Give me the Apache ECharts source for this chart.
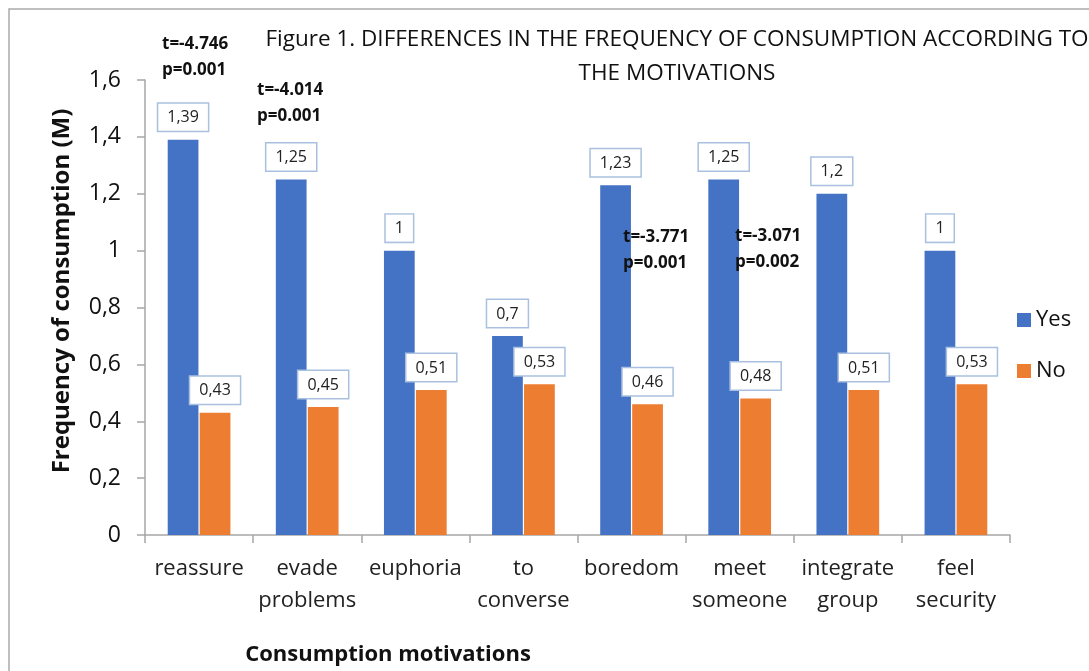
<!DOCTYPE html>
<html>
<head>
<meta charset="utf-8">
<script src="https://cdn.jsdelivr.net/npm/echarts@6/dist/echarts.min.js"></script>
<style>
  html, body { margin: 0; padding: 0; background: #fff; }
  #chart { width: 1089px; height: 671px; }
</style>
</head>
<body>
<div id="chart"></div>
<script>
  var categories = ['reassure', 'evade\nproblems', 'euphoria', 'to\nconverse', 'boredom', 'meet\nsomeone', 'integrate\ngroup', 'feel\nsecurity'];
  var yesValues = [1.39, 1.25, 1, 0.7, 1.23, 1.25, 1.2, 1];
  var noValues = [0.43, 0.45, 0.51, 0.53, 0.46, 0.48, 0.51, 0.53];
  var seriesNames = ['Yes', 'No'];
  // t-test notes: text + where they sit
  var notes = [
    { text: 't=-4.746\np=0.001', x: 162, y: 57 },
    { text: 't=-4.014\np=0.001', x: 257, y: 103 },
    { text: 't=-3.771\np=0.001', x: 623, y: 250 },
    { text: 't=-3.071\np=0.002', x: 735, y: 249 }
  ];

  var font = 'Open Sans';
  var comma = function (v) { return String(v).replace('.', ','); };

  var chart = echarts.init(document.getElementById('chart'));

  var labelStyle = {
    show: true,
    position: 'top',
    distance: 9,
    formatter: function (p) { return comma(p.value); },
    fontFamily: font,
    fontSize: 16,
    color: '#222',
    backgroundColor: '#fff',
    borderColor: '#a9c0e0',
    borderWidth: 1.5,
    padding: [6, 9, 5, 9]
  };

  var graphics = [{
    type: 'rect',
    shape: { x: 9, y: 9, width: 1200, height: 800 },
    style: { fill: 'none', stroke: '#aaa', lineWidth: 1.5 },
    silent: true
  }, {
    type: 'text',
    x: 677, y: 23,
    style: {
      text: 'Figure 1. DIFFERENCES IN THE FREQUENCY OF CONSUMPTION ACCORDING TO\nTHE MOTIVATIONS',
      fontFamily: font, fontSize: 22.5, fill: '#111', align: 'center', lineHeight: 34
    }
  }, {
    type: 'text',
    x: 388, y: 655,
    style: {
      text: 'Consumption motivations',
      fontFamily: font, fontSize: 22, fontWeight: 'bold', fill: '#111',
      align: 'center', verticalAlign: 'middle'
    }
  }, {
    type: 'text',
    x: 62, y: 291,
    rotation: Math.PI / 2,
    style: {
      text: 'Frequency of consumption (M)',
      fontFamily: font, fontSize: 24, fontWeight: 'bold', fill: '#111',
      align: 'center', verticalAlign: 'middle'
    }
  }];
  notes.forEach(function (n) {
    graphics.push({
      type: 'text',
      x: n.x, y: n.y,
      z: 10,
      style: {
        text: n.text, fontFamily: font, fontSize: 17, fontWeight: 'bold',
        fill: '#111', lineHeight: 26, verticalAlign: 'middle'
      }
    });
  });

  var option = {
    animation: false,
    textStyle: { fontFamily: font },
    grid: { left: 145, right: 79, top: 80, bottom: 136 },
    legend: {
      orient: 'vertical',
      left: 1012,
      top: 304,
      itemWidth: 14,
      itemHeight: 14,
      itemGap: 29,
      icon: 'rect',
      textStyle: { fontSize: 22, color: '#111', fontFamily: font },
      data: seriesNames
    },
    xAxis: {
      type: 'category',
      data: categories,
      axisLine: { lineStyle: { color: '#a6a6a6', width: 1.5 } },
      axisTick: { show: true, length: 8, lineStyle: { color: '#a6a6a6', width: 1.5 } },
      axisLabel: { fontSize: 22, color: '#222', lineHeight: 32, margin: 18, interval: 0 }
    },
    yAxis: {
      type: 'value',
      min: 0,
      max: 1.6,
      interval: 0.2,
      splitLine: { show: false },
      axisLine: { show: true, lineStyle: { color: '#a6a6a6', width: 1.5 } },
      axisTick: { show: true, length: 8, lineStyle: { color: '#a6a6a6', width: 1.5 } },
      axisLabel: {
        fontSize: 23, color: '#111', margin: 24,
        formatter: function (v) { return comma(Math.round(v * 10) / 10); }
      }
    },
    series: [{
      name: seriesNames[0],
      type: 'bar',
      data: yesValues,
      barGap: '4%',
      barCategoryGap: '42%',
      itemStyle: { color: '#4472c4' },
      label: labelStyle
    }, {
      name: seriesNames[1],
      type: 'bar',
      data: noValues,
      itemStyle: { color: '#ed7d31' },
      label: labelStyle
    }],
    graphic: graphics
  };

  chart.setOption(option);
</script>
</body>
</html>
